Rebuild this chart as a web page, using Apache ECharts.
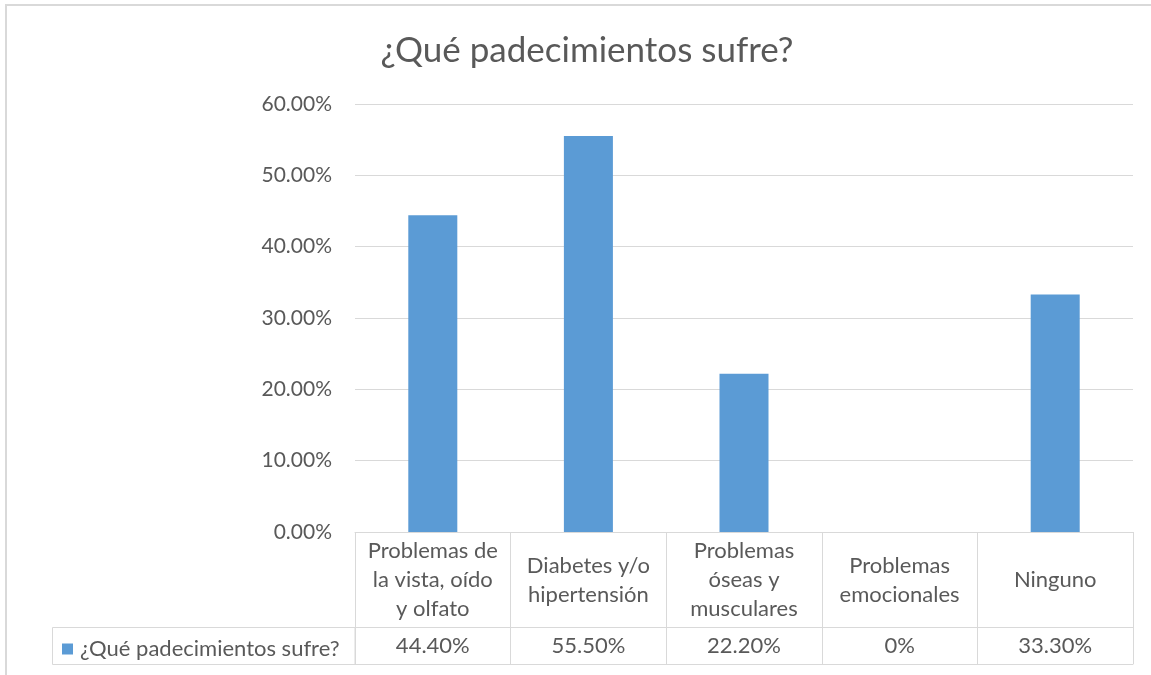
<!DOCTYPE html>
<html>
<head>
<meta charset="utf-8">
<title>¿Qué padecimientos sufre?</title>
<script src="https://cdn.jsdelivr.net/npm/echarts@6/dist/echarts.min.js"></script>
<style>
    html, body { margin: 0; padding: 0; background: #fff; }
    #main { width: 1151px; height: 675px; }
</style>
</head>
<body>
<div id="main"></div>
<script>
// datos
var titulo = '¿Qué padecimientos sufre?';
var categorias = ['Problemas de\nla vista, oído\ny olfato', 'Diabetes y/o\nhipertensión', 'Problemas\nóseas y\nmusculares', 'Problemas\nemocionales', 'Ninguno'];
var valores = [44.4, 55.5, 22.2, 0, 33.3];
var etiquetasTabla = ['44.40%', '55.50%', '22.20%', '0%', '33.30%'];
var ticksY = [0, 10, 20, 30, 40, 50, 60];

var fuente = 'Lato, "Liberation Sans", sans-serif';
var gris = '#595959';
var linea = '#d9d9d9';

var option = {
    backgroundColor: '#fff',
    textStyle: { fontFamily: fuente },
    title: {
        text: titulo,
        left: 582,
        top: 28,
        textAlign: 'center',
        textStyle: { fontSize: 35, fontWeight: 'normal', color: gris, fontFamily: fuente }
    },
    legend: {
        left: 57,
        top: 633,
        itemWidth: 11,
        itemHeight: 11,
        icon: 'rect',
        selectedMode: false,
        textStyle: { fontSize: 22, color: gris, fontFamily: fuente, padding: [0, 0, 0, 2] },
        data: [titulo]
    },
    grid: {
        left: 355,
        right: 18,
        top: 104,
        bottom: 143
    },
    xAxis: [
        {
            // fila de categorías de la tabla
            type: 'category',
            data: categorias,
            axisLine: { show: true, lineStyle: { color: linea } },
            axisTick: { show: true, length: 95, lineStyle: { color: linea } },
            axisLabel: {
                interval: 0,
                margin: 48,
                verticalAlign: 'middle',
                align: 'center',
                lineHeight: 29,
                fontSize: 22,
                color: gris,
                fontFamily: fuente
            }
        },
        {
            // fila de valores
            type: 'category',
            data: categorias,
            position: 'bottom',
            offset: 95,
            axisLine: { show: true, lineStyle: { color: linea } },
            axisTick: { show: true, length: 37, lineStyle: { color: linea } },
            axisLabel: {
                interval: 0,
                margin: 19,
                verticalAlign: 'middle',
                fontSize: 22,
                color: gris,
                fontFamily: fuente,
                formatter: function (v, i) { return etiquetasTabla[i]; }
            }
        },
        {
            // borde inferior de la tabla
            type: 'category',
            data: categorias,
            position: 'bottom',
            offset: 132,
            axisLine: { show: true, lineStyle: { color: linea } },
            axisTick: { show: false },
            axisLabel: { show: false }
        }
    ],
    yAxis: {
        type: 'value',
        min: ticksY[0],
        max: ticksY[ticksY.length - 1],
        interval: 10,
        axisLine: { show: false },
        axisTick: { show: false },
        splitLine: { lineStyle: { color: linea } },
        axisLabel: {
            margin: 23,
            fontSize: 21,
            color: gris,
            fontFamily: fuente,
            formatter: function (v) { return v.toFixed(2) + '%'; }
        }
    },
    series: [
        {
            name: titulo,
            type: 'bar',
            data: valores,
            barWidth: '31.5%',
            itemStyle: { color: '#5b9bd5' }
        }
    ],
    graphic: [
        // marco del gráfico
        {
            type: 'rect',
            shape: { x: 6, y: 5, width: 1200, height: 720 },
            style: { fill: null, stroke: linea, lineWidth: 2 },
            silent: true
        },
        // celda de leyenda
        {
            type: 'rect',
            shape: { x: 52.5, y: 627.5, width: 302.5, height: 37 },
            style: { fill: null, stroke: linea, lineWidth: 1 },
            silent: true
        }
    ]
};

var myChart = echarts.init(document.getElementById('main'));
myChart.setOption(option);
</script>
</body>
</html>
